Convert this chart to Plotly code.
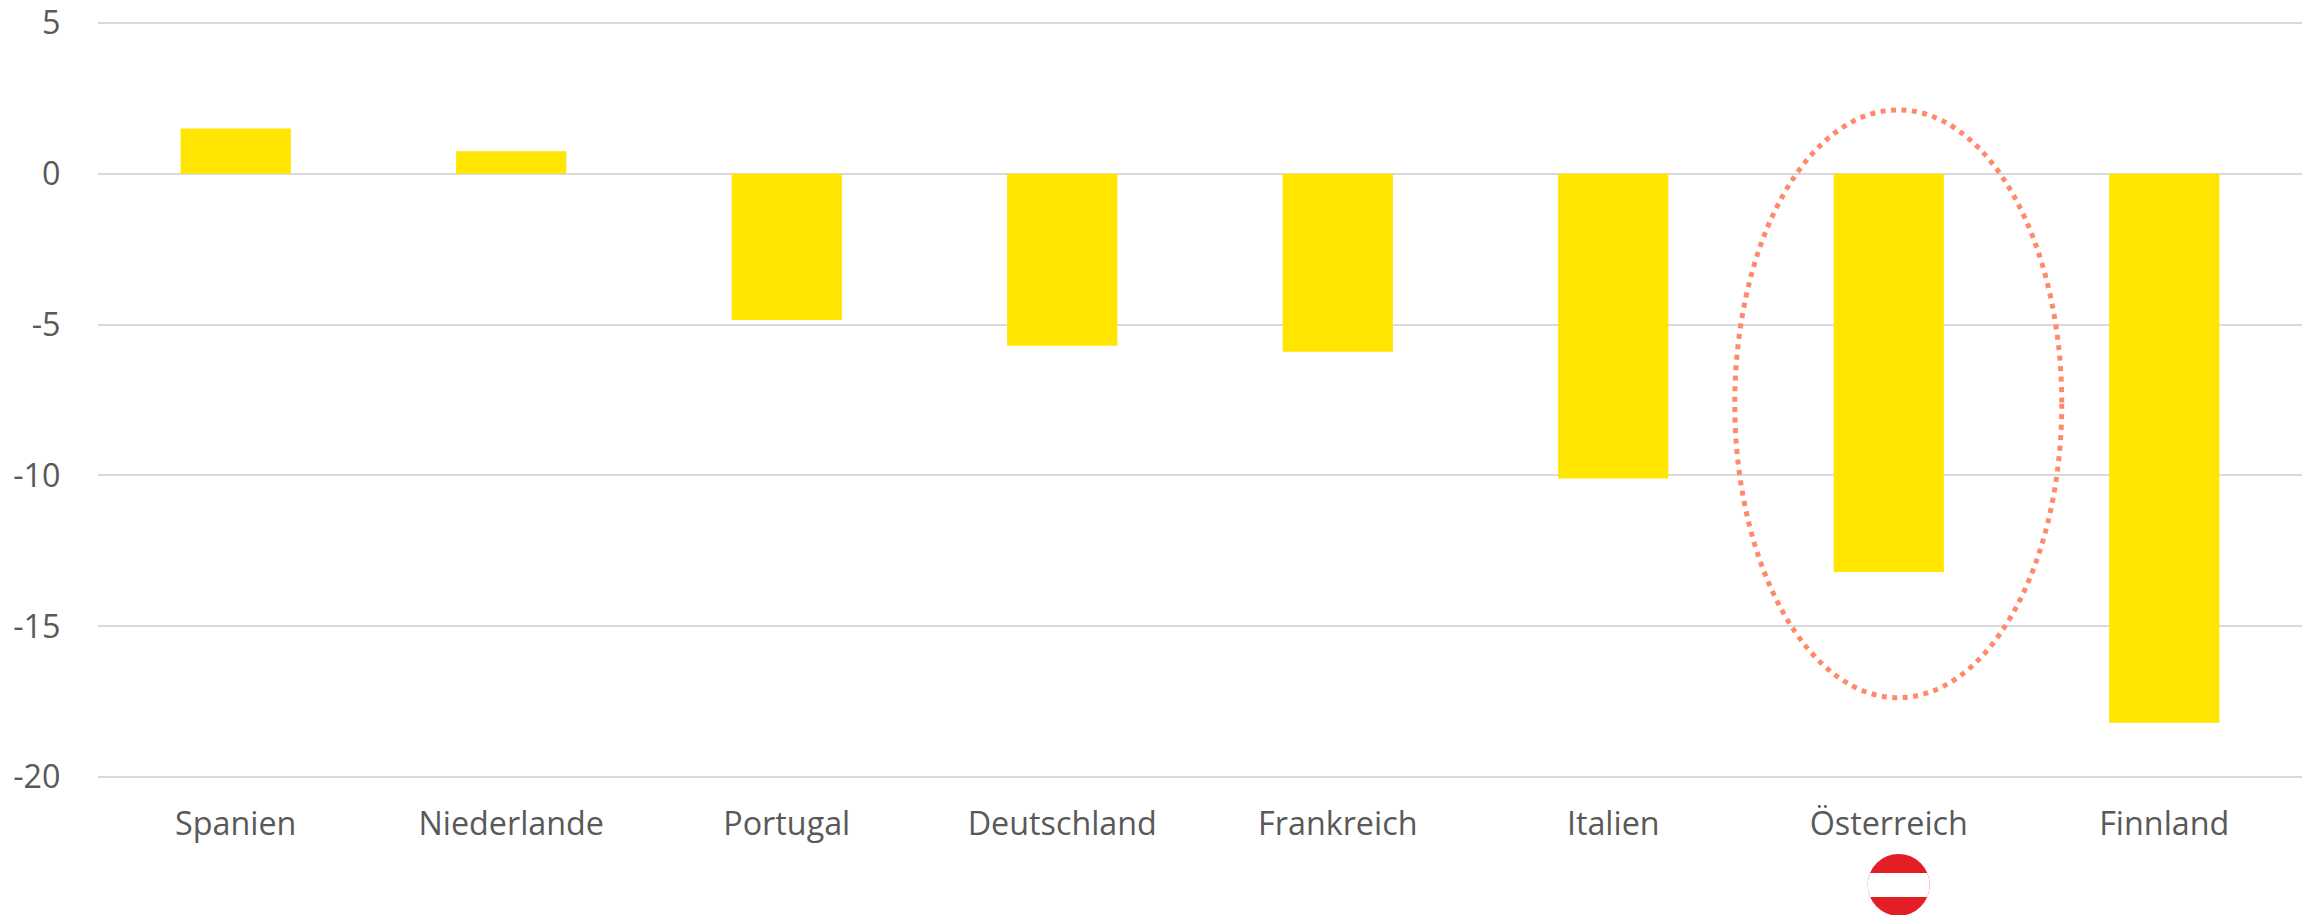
import plotly.graph_objects as go

categories = ["Spanien", "Niederlande", "Portugal", "Deutschland", "Frankreich", "Italien", "Österreich", "Finnland"]
values = [1.5, 0.75, -4.85, -5.7, -5.9, -10.1, -13.2, -18.2]
y_ticks = [5, 0, -5, -10, -15, -20]
y_tick_labels = ["5", "0", "-5", "-10", "-15", "-20"]

TEXT = "#595959"
GRID = "#D9D9D9"
FONT = "Open Sans"
FONT_SIZE = 32.3
BADGE_X = 6.036
BADGE_Y = -0.1380

fig = go.Figure(go.Bar(x=categories, y=values, width=0.4, marker=dict(color="#FFE500", line=dict(width=0))))

shapes = [
    # dotted highlight ellipse around Österreich
    dict(type="circle", xref="x", yref="y", x0=5.441, x1=6.628, y0=2.12, y1=-17.37,
         line=dict(color="#FF8A6B", width=5, dash="5px,5.5px")),
    # Austrian flag badge below the label
    dict(type="circle", xref="x", yref="paper", xsizemode="pixel", ysizemode="pixel",
         xanchor=BADGE_X, yanchor=BADGE_Y, x0=-31, x1=31, y0=-31, y1=31,
         fillcolor="#E31E24", line=dict(width=0)),
    dict(type="path", xref="x", yref="paper", xsizemode="pixel", ysizemode="pixel",
         xanchor=BADGE_X, yanchor=BADGE_Y,
         path="M -28.6 -12 Q -33.4 0 -28.6 12 L 28.6 12 Q 33.4 0 28.6 -12 Z",
         fillcolor="#FFFFFF", line=dict(width=0)),
]

fig.update_layout(
    width=2309, height=915, autosize=False,
    margin=dict(l=98, r=7, t=19.5, b=135),
    paper_bgcolor="white", plot_bgcolor="white",
    font=dict(family=FONT, size=FONT_SIZE, color=TEXT),
    showlegend=False, bargap=0.6, shapes=shapes,
    xaxis=dict(type="category", categoryorder="array", categoryarray=categories,
               showgrid=False, zeroline=False, showline=False,
               ticks="outside", ticklen=15, tickcolor="rgba(0,0,0,0)",
               tickfont=dict(family=FONT, size=FONT_SIZE, color=TEXT), automargin=False),
    yaxis=dict(range=[-20.1, 5.1], tickmode="array", tickvals=y_ticks, ticktext=y_tick_labels,
               showgrid=True, gridcolor=GRID, gridwidth=2,
               zeroline=True, zerolinecolor=GRID, zerolinewidth=2, showline=False,
               ticks="outside", ticklen=30, tickcolor="rgba(0,0,0,0)",
               ticklabeloverflow="allow",
               tickfont=dict(family=FONT, size=FONT_SIZE, color=TEXT), automargin=False),
)

fig.write_html("out.html", config=dict(displayModeBar=False),
               post_script="document.body.style.margin='0';document.documentElement.style.overflow='hidden';")
